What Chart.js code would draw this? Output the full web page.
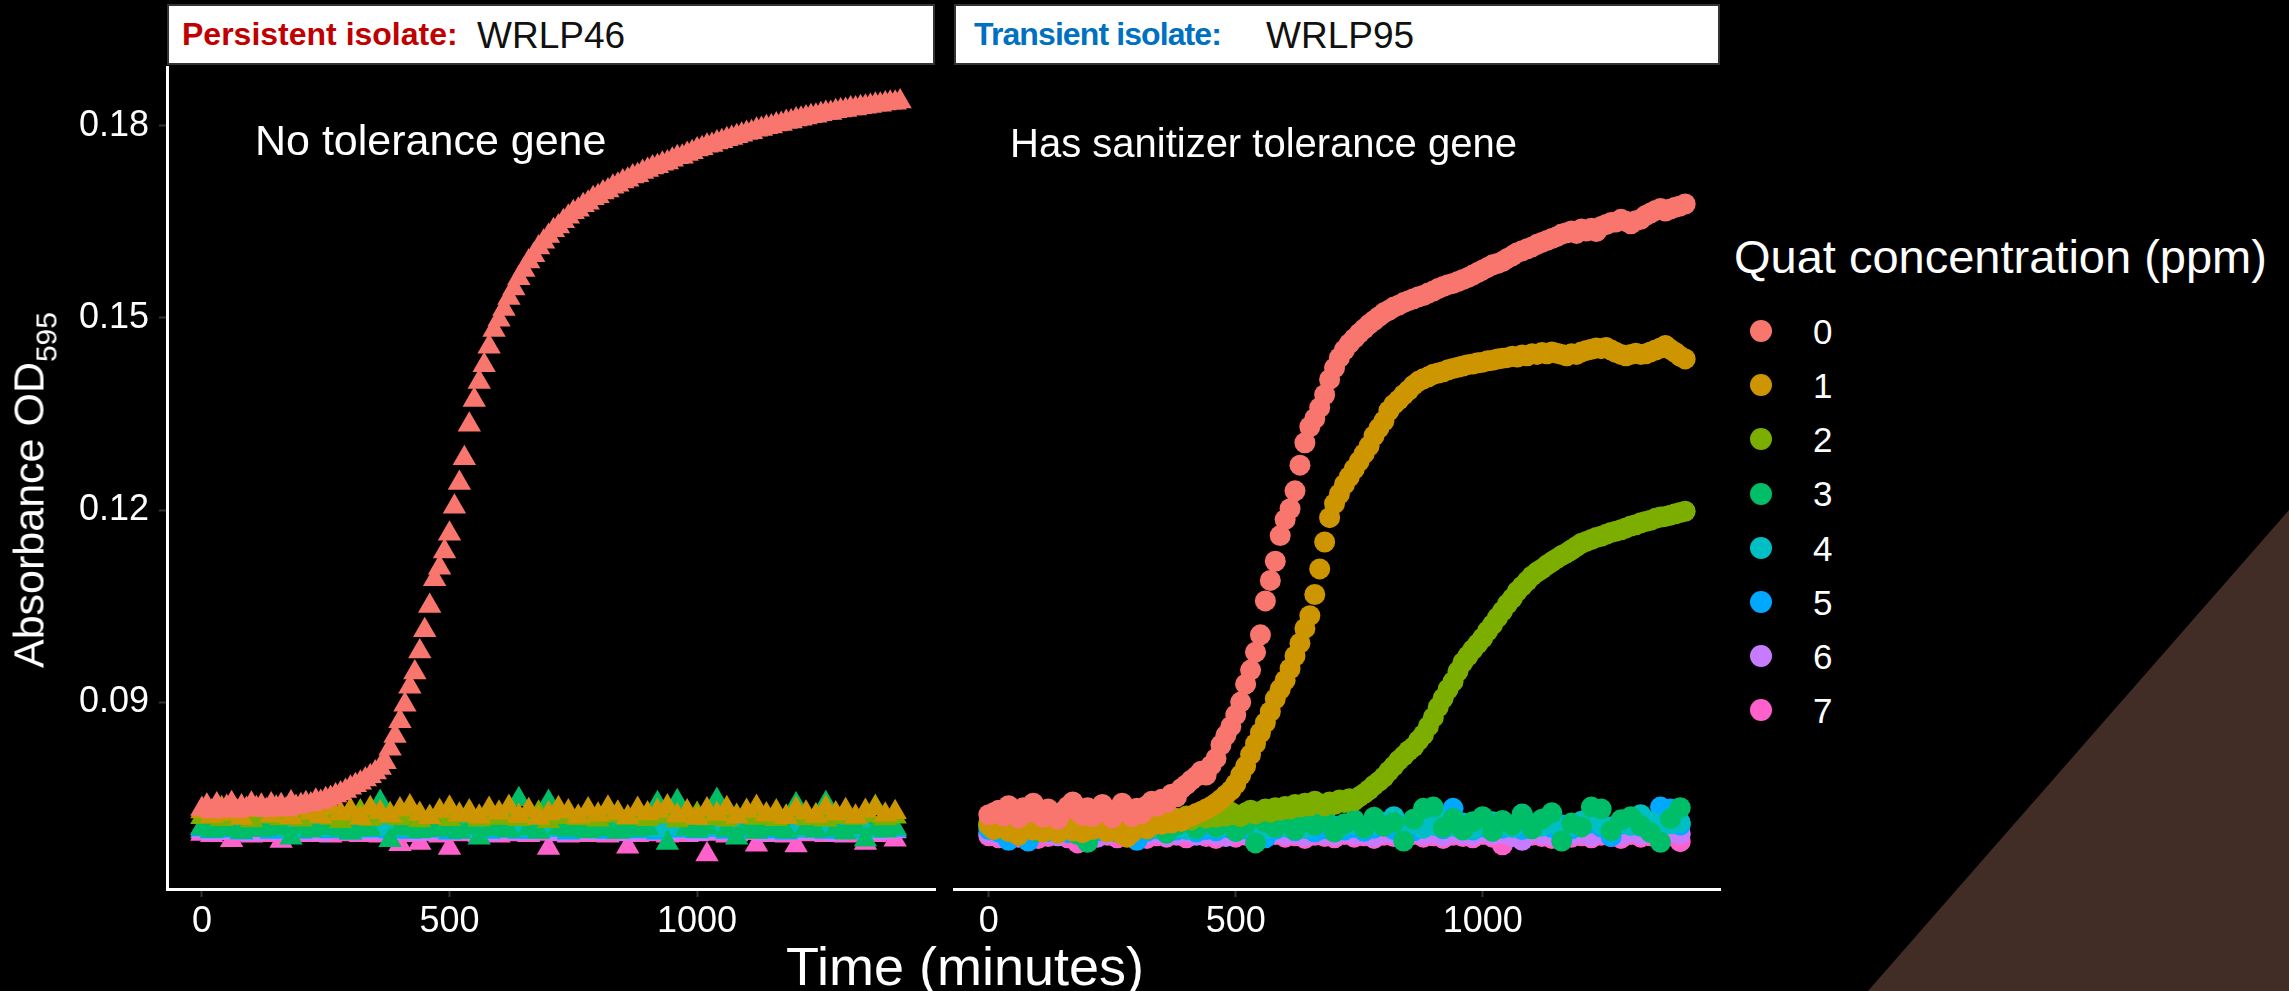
<!DOCTYPE html>
<html>
<head>
<meta charset="utf-8">
<script src="https://cdn.jsdelivr.net/npm/chart.js@4.4.1/dist/chart.umd.min.js"></script>
<style>
html, body { margin: 0; padding: 0; background: #000; }
#page { position: relative; width: 2289px; height: 991px; background: #000; overflow: hidden;
        font-family: "Liberation Sans", Arial, sans-serif; color: #fff; }
.txt { position: absolute; white-space: nowrap; }
.panel { position: absolute; }
.strip { position: absolute; box-sizing: border-box; background: #fff; border: 2px solid #333; }
.dot { position: absolute; border-radius: 50%; }
#corner { position: absolute; left: 0; top: 0; width: 2289px; height: 991px; background: #422c26;
          clip-path: polygon(2289px 510px, 2289px 991px, 1868px 991px); }
</style>
</head>
<body>
<div id="page">
  <div id="corner"></div>
  <div class="strip" style="left:167px;top:4px;width:768px;height:61px;"></div>
  <div class="strip" style="left:954px;top:4px;width:766px;height:61px;"></div>
  <canvas id="leftChart" class="panel" width="945" height="931" style="left:0;top:60px;width:945px;height:931px;"></canvas>
  <canvas id="rightChart" class="panel" width="785" height="931" style="left:945px;top:60px;width:785px;height:931px;"></canvas>
</div>
<script>
// concentrations and ggplot hue colours
const concLabels = ['0', '1', '2', '3', '4', '5', '6', '7'];
const concColors = ['#F8766D', '#CD9600', '#7CAE00', '#00BE67', '#00BFC4', '#00A9FF', '#C77CFF', '#FF61CC'];

const xTicks = [0, 500, 1000];
const yTicks = [0.09, 0.12, 0.15, 0.18];

// reading times (minutes)
const timesFine = [
  0, 10, 20, 30, 40, 50, 60, 70, 80, 90,
  100, 110, 120, 130, 140, 150, 160, 170, 180, 190,
  200, 210, 220, 230, 240, 250, 260, 270, 280, 290,
  300, 310, 320, 330, 340, 350, 360, 370, 380, 390,
  400, 410, 420, 430, 440, 450, 460, 470, 480, 490,
  500, 510, 520, 530, 540, 550, 560, 570, 580, 590,
  600, 610, 620, 630, 640, 650, 660, 670, 680, 690,
  700, 710, 720, 730, 740, 750, 760, 770, 780, 790,
  800, 810, 820, 830, 840, 850, 860, 870, 880, 890,
  900, 910, 920, 930, 940, 950, 960, 970, 980, 990,
  1000, 1010, 1020, 1030, 1040, 1050, 1060, 1070, 1080, 1090,
  1100, 1110, 1120, 1130, 1140, 1150, 1160, 1170, 1180, 1190,
  1200, 1210, 1220, 1230, 1240, 1250, 1260, 1270, 1280, 1290,
  1300, 1310, 1320, 1330, 1340, 1350, 1360, 1370, 1380, 1390,
  1400, 1410
];
const timesCoarse = [
  0, 20, 40, 60, 80, 100, 120, 140, 160, 180,
  200, 220, 240, 260, 280, 300, 320, 340, 360, 380,
  400, 420, 440, 460, 480, 500, 520, 540, 560, 580,
  600, 620, 640, 660, 680, 700, 720, 740, 760, 780,
  800, 820, 840, 860, 880, 900, 920, 940, 960, 980,
  1000, 1020, 1040, 1060, 1080, 1100, 1120, 1140, 1160, 1180,
  1200, 1220, 1240, 1260, 1280, 1300, 1320, 1340, 1360, 1380,
  1400
];

// Persistent isolate WRLP46 (absorbance OD595)
const wrlp46_q0 = [
  0.0733, 0.0738, 0.0729, 0.0740, 0.0731, 0.0736, 0.0742, 0.0730, 0.0737, 0.0733,
  0.0741, 0.0734, 0.0738, 0.0731, 0.0740, 0.0735, 0.0739, 0.0732, 0.0743, 0.0736,
  0.0739, 0.0742, 0.0740, 0.0746, 0.0744, 0.0748, 0.0750, 0.0754, 0.0757, 0.0761,
  0.0766, 0.0770, 0.0774, 0.0779, 0.0784, 0.0790, 0.0797, 0.0806, 0.0827, 0.0847,
  0.0870, 0.0896, 0.0924, 0.0946, 0.0979, 0.1012, 0.1050, 0.1092, 0.1110, 0.1135,
  0.1163, 0.1205, 0.1242, 0.1281, 0.1333, 0.1372, 0.1400, 0.1426, 0.1455, 0.1481,
  0.1497, 0.1514, 0.1531, 0.1546, 0.1562, 0.1575, 0.1588, 0.1598, 0.1610, 0.1619,
  0.1628, 0.1637, 0.1643, 0.1651, 0.1658, 0.1665, 0.1669, 0.1676, 0.1680, 0.1687,
  0.1690, 0.1696, 0.1699, 0.1705, 0.1708, 0.1713, 0.1716, 0.1721, 0.1723, 0.1728,
  0.1731, 0.1735, 0.1737, 0.1741, 0.1743, 0.1747, 0.1751, 0.1752, 0.1756, 0.1759,
  0.1763, 0.1765, 0.1769, 0.1770, 0.1774, 0.1776, 0.1779, 0.1781, 0.1784, 0.1786,
  0.1789, 0.1790, 0.1794, 0.1795, 0.1798, 0.1799, 0.1802, 0.1803, 0.1806, 0.1807,
  0.1810, 0.1811, 0.1813, 0.1815, 0.1816, 0.1818, 0.1820, 0.1820, 0.1823, 0.1824,
  0.1825, 0.1827, 0.1827, 0.1829, 0.1830, 0.1831, 0.1833, 0.1833, 0.1835, 0.1836,
  0.1836, 0.1838
];
const wrlp46_q1 = [
  0.0729, 0.0722, 0.0734, 0.0725, 0.0719, 0.0731, 0.0736, 0.0723, 0.0730, 0.0720,
  0.0733, 0.0727, 0.0721, 0.0735, 0.0726, 0.0731, 0.0719, 0.0734, 0.0728, 0.0723,
  0.0732, 0.0737, 0.0725, 0.0720, 0.0730, 0.0735, 0.0724, 0.0729, 0.0721, 0.0733,
  0.0727, 0.0736, 0.0722, 0.0731, 0.0719, 0.0726, 0.0734, 0.0729, 0.0721, 0.0732,
  0.0724, 0.0735, 0.0727, 0.0720, 0.0733, 0.0726, 0.0730, 0.0737, 0.0723, 0.0729,
  0.0719, 0.0732, 0.0725, 0.0734, 0.0721, 0.0730, 0.0736, 0.0724, 0.0729, 0.0720,
  0.0733, 0.0727, 0.0722, 0.0735, 0.0726, 0.0731, 0.0721, 0.0730, 0.0734, 0.0724,
  0.0728
];
const wrlp46_q2 = [
  0.0720, 0.0725, 0.0717, 0.0723, 0.0728, 0.0715, 0.0721, 0.0726, 0.0718, 0.0724,
  0.0716, 0.0722, 0.0727, 0.0719, 0.0714, 0.0723, 0.0729, 0.0717, 0.0721, 0.0725,
  0.0718, 0.0724, 0.0715, 0.0720, 0.0726, 0.0717, 0.0722, 0.0728, 0.0716, 0.0723,
  0.0719, 0.0725, 0.0717, 0.0721, 0.0727, 0.0714, 0.0720, 0.0724, 0.0718, 0.0723,
  0.0716, 0.0722, 0.0726, 0.0719, 0.0724, 0.0717, 0.0721, 0.0727, 0.0715, 0.0720,
  0.0725, 0.0718, 0.0723, 0.0716, 0.0722, 0.0726, 0.0719, 0.0724, 0.0717, 0.0721,
  0.0727, 0.0718, 0.0723, 0.0716, 0.0720, 0.0725, 0.0719, 0.0722, 0.0736, 0.0718,
  0.0721
];
const wrlp46_q3 = [
  0.0703, 0.0699, 0.0706, 0.0701, 0.0697, 0.0704, 0.0700, 0.0707, 0.0702, 0.0688,
  0.0705, 0.0699, 0.0703, 0.0708, 0.0700, 0.0696, 0.0704, 0.0701, 0.0744, 0.0684,
  0.0702, 0.0706, 0.0698, 0.0703, 0.0700, 0.0707, 0.0697, 0.0704, 0.0688, 0.0701,
  0.0705, 0.0699, 0.0748, 0.0702, 0.0697, 0.0744, 0.0703, 0.0700, 0.0706, 0.0698,
  0.0704, 0.0701, 0.0697, 0.0705, 0.0700, 0.0703, 0.0742, 0.0680, 0.0745, 0.0702,
  0.0699, 0.0704, 0.0747, 0.0700, 0.0688, 0.0703, 0.0697, 0.0705, 0.0701, 0.0698,
  0.0740, 0.0703, 0.0699, 0.0742, 0.0701, 0.0696, 0.0704, 0.0685, 0.0702, 0.0699,
  0.0703
];
const wrlp46_q4 = [
  0.0704, 0.0701, 0.0706, 0.0703, 0.0700, 0.0705, 0.0702, 0.0707, 0.0703, 0.0700,
  0.0705, 0.0702, 0.0704, 0.0701, 0.0706, 0.0703, 0.0700, 0.0705, 0.0702, 0.0704,
  0.0701, 0.0706, 0.0703, 0.0700, 0.0704, 0.0702, 0.0707, 0.0703, 0.0701, 0.0705,
  0.0702, 0.0704, 0.0700, 0.0706, 0.0703, 0.0701, 0.0705, 0.0702, 0.0704, 0.0700,
  0.0706, 0.0703, 0.0701, 0.0705, 0.0702, 0.0704, 0.0700, 0.0706, 0.0703, 0.0701,
  0.0705, 0.0702, 0.0704, 0.0700, 0.0706, 0.0703, 0.0701, 0.0705, 0.0702, 0.0704,
  0.0700, 0.0706, 0.0703, 0.0701, 0.0705, 0.0702, 0.0704, 0.0700, 0.0703, 0.0705,
  0.0702
];
const wrlp46_q5 = [
  0.0701, 0.0698, 0.0702, 0.0699, 0.0696, 0.0703, 0.0700, 0.0697, 0.0702, 0.0699,
  0.0697, 0.0701, 0.0704, 0.0698, 0.0700, 0.0696, 0.0702, 0.0699, 0.0703, 0.0698,
  0.0700, 0.0697, 0.0703, 0.0699, 0.0701, 0.0696, 0.0698, 0.0702, 0.0700, 0.0697,
  0.0703, 0.0699, 0.0697, 0.0701, 0.0698, 0.0704, 0.0700, 0.0696, 0.0702, 0.0699,
  0.0701, 0.0697, 0.0703, 0.0700, 0.0698, 0.0702, 0.0696, 0.0701, 0.0699, 0.0703,
  0.0698, 0.0700, 0.0702, 0.0697, 0.0701, 0.0699, 0.0704, 0.0698, 0.0700, 0.0696,
  0.0702, 0.0699, 0.0701, 0.0697, 0.0703, 0.0700, 0.0698, 0.0702, 0.0699, 0.0701,
  0.0700
];
const wrlp46_q6 = [
  0.0698, 0.0695, 0.0699, 0.0696, 0.0700, 0.0694, 0.0697, 0.0699, 0.0695, 0.0698,
  0.0696, 0.0700, 0.0694, 0.0697, 0.0699, 0.0695, 0.0698, 0.0696, 0.0700, 0.0695,
  0.0697, 0.0699, 0.0694, 0.0698, 0.0696, 0.0700, 0.0695, 0.0697, 0.0699, 0.0694,
  0.0698, 0.0696, 0.0700, 0.0695, 0.0697, 0.0699, 0.0694, 0.0698, 0.0696, 0.0700,
  0.0695, 0.0697, 0.0699, 0.0694, 0.0698, 0.0696, 0.0700, 0.0695, 0.0697, 0.0699,
  0.0694, 0.0698, 0.0696, 0.0700, 0.0695, 0.0697, 0.0699, 0.0694, 0.0698, 0.0696,
  0.0700, 0.0695, 0.0697, 0.0699, 0.0694, 0.0698, 0.0696, 0.0700, 0.0695, 0.0697,
  0.0698
];
const wrlp46_q7 = [
  0.0694, 0.0692, 0.0695, 0.0684, 0.0693, 0.0691, 0.0694, 0.0692, 0.0683, 0.0693,
  0.0695, 0.0692, 0.0694, 0.0691, 0.0693, 0.0695, 0.0692, 0.0694, 0.0691, 0.0693,
  0.0678, 0.0692, 0.0680, 0.0694, 0.0691, 0.0672, 0.0693, 0.0695, 0.0692, 0.0694,
  0.0691, 0.0693, 0.0695, 0.0692, 0.0694, 0.0672, 0.0693, 0.0691, 0.0695, 0.0692,
  0.0694, 0.0691, 0.0693, 0.0674, 0.0692, 0.0695, 0.0693, 0.0691, 0.0694, 0.0692,
  0.0693, 0.0662, 0.0694, 0.0691, 0.0693, 0.0695, 0.0677, 0.0692, 0.0694, 0.0691,
  0.0676, 0.0693, 0.0695, 0.0692, 0.0694, 0.0691, 0.0693, 0.0680, 0.0692, 0.0694,
  0.0685
];

// Transient isolate WRLP95 (absorbance OD595)
const wrlp95_q0 = [
  0.0724, 0.0727, 0.0731, 0.0722, 0.0738, 0.0726, 0.0719, 0.0735, 0.0728, 0.0742,
  0.0725, 0.0720, 0.0733, 0.0727, 0.0717, 0.0729, 0.0737, 0.0744, 0.0730, 0.0723,
  0.0735, 0.0721, 0.0730, 0.0740, 0.0726, 0.0719, 0.0732, 0.0742, 0.0728, 0.0721,
  0.0734, 0.0726, 0.0738, 0.0745, 0.0737, 0.0748, 0.0743, 0.0756, 0.0752, 0.0765,
  0.0771, 0.0778, 0.0784, 0.0792, 0.0786, 0.0801, 0.0812, 0.0833, 0.0848, 0.0862,
  0.0880, 0.0900, 0.0928, 0.0950, 0.0978, 0.1005, 0.1058, 0.1090, 0.1120, 0.1160,
  0.1185, 0.1202, 0.1230, 0.1270, 0.1305, 0.1330, 0.1343, 0.1360, 0.1380, 0.1404,
  0.1422, 0.1438, 0.1450, 0.1460, 0.1468, 0.1476, 0.1483, 0.1490, 0.1496, 0.1502,
  0.1508, 0.1512, 0.1517, 0.1520, 0.1524, 0.1527, 0.1530, 0.1533, 0.1535, 0.1539,
  0.1542, 0.1546, 0.1549, 0.1552, 0.1554, 0.1557, 0.1560, 0.1563, 0.1567, 0.1571,
  0.1575, 0.1579, 0.1583, 0.1585, 0.1588, 0.1593, 0.1597, 0.1602, 0.1605, 0.1608,
  0.1611, 0.1615, 0.1618, 0.1621, 0.1624, 0.1627, 0.1631, 0.1633, 0.1636, 0.1632,
  0.1639, 0.1636, 0.1640, 0.1635, 0.1643, 0.1646, 0.1649, 0.1650, 0.1654, 0.1651,
  0.1647, 0.1652, 0.1654, 0.1660, 0.1664, 0.1668, 0.1671, 0.1667, 0.1670, 0.1673,
  0.1675, 0.1678
];
const wrlp95_q1 = [
  0.0708, 0.0701, 0.0712, 0.0704, 0.0698, 0.0709, 0.0692, 0.0703, 0.0711, 0.0700,
  0.0706, 0.0697, 0.0710, 0.0702, 0.0695, 0.0707, 0.0713, 0.0699, 0.0704, 0.0696,
  0.0709, 0.0701, 0.0712, 0.0703, 0.0697, 0.0708, 0.0700, 0.0693, 0.0689, 0.0696,
  0.0705, 0.0710, 0.0702, 0.0707, 0.0713, 0.0709, 0.0715, 0.0711, 0.0718, 0.0714,
  0.0720, 0.0722, 0.0726, 0.0729, 0.0733, 0.0737, 0.0742, 0.0748, 0.0755, 0.0762,
  0.0772, 0.0786, 0.0800, 0.0818, 0.0835, 0.0852, 0.0868, 0.0885, 0.0905, 0.0920,
  0.0934, 0.0952, 0.0972, 0.0992, 0.1015, 0.1035, 0.1068, 0.1108, 0.1150, 0.1188,
  0.1210, 0.1225, 0.1240, 0.1252, 0.1264, 0.1276, 0.1288, 0.1300, 0.1316, 0.1328,
  0.1339, 0.1355, 0.1365, 0.1372, 0.1380, 0.1387, 0.1395, 0.1401, 0.1405, 0.1408,
  0.1412, 0.1414, 0.1416, 0.1419, 0.1421, 0.1423, 0.1425, 0.1427, 0.1428, 0.1430,
  0.1431, 0.1433, 0.1434, 0.1436, 0.1437, 0.1438, 0.1440, 0.1439, 0.1442, 0.1441,
  0.1444, 0.1443, 0.1446, 0.1444, 0.1447, 0.1445, 0.1443, 0.1441, 0.1444, 0.1443,
  0.1447, 0.1449, 0.1451, 0.1453, 0.1452, 0.1454, 0.1450, 0.1446, 0.1443, 0.1441,
  0.1443, 0.1445, 0.1443, 0.1444, 0.1447, 0.1450, 0.1453, 0.1457, 0.1451, 0.1446,
  0.1440, 0.1436
];
const wrlp95_q2 = [
  0.0712, 0.0708, 0.0715, 0.0710, 0.0717, 0.0706, 0.0713, 0.0709, 0.0716, 0.0711,
  0.0704, 0.0714, 0.0709, 0.0718, 0.0707, 0.0712, 0.0716, 0.0705, 0.0713, 0.0719,
  0.0708, 0.0714, 0.0710, 0.0717, 0.0706, 0.0713, 0.0718, 0.0709, 0.0715, 0.0711,
  0.0716, 0.0707, 0.0714, 0.0719, 0.0712, 0.0717, 0.0713, 0.0720, 0.0715, 0.0718,
  0.0722, 0.0716, 0.0721, 0.0725, 0.0719, 0.0724, 0.0720, 0.0726, 0.0722, 0.0728,
  0.0724, 0.0721, 0.0727, 0.0731, 0.0725, 0.0729, 0.0733, 0.0728, 0.0735, 0.0731,
  0.0737, 0.0733, 0.0740, 0.0736, 0.0742, 0.0738, 0.0745, 0.0741, 0.0738, 0.0744,
  0.0740, 0.0747, 0.0743, 0.0749, 0.0746, 0.0752, 0.0757, 0.0763, 0.0770, 0.0776,
  0.0783, 0.0792, 0.0800, 0.0809, 0.0816, 0.0824, 0.0830, 0.0840, 0.0849, 0.0862,
  0.0876, 0.0892, 0.0906, 0.0920, 0.0932, 0.0948, 0.0962, 0.0972, 0.0982, 0.0991,
  0.1000, 0.1011, 0.1021, 0.1032, 0.1042, 0.1053, 0.1062, 0.1073, 0.1081, 0.1089,
  0.1097, 0.1103, 0.1108, 0.1114, 0.1119, 0.1124, 0.1129, 0.1133, 0.1138, 0.1143,
  0.1148, 0.1151, 0.1154, 0.1157, 0.1159, 0.1162, 0.1165, 0.1167, 0.1169, 0.1172,
  0.1175, 0.1177, 0.1180, 0.1182, 0.1184, 0.1187, 0.1189, 0.1190, 0.1192, 0.1194,
  0.1196, 0.1198
];
const wrlp95_q3 = [
  0.0709, 0.0703, 0.0714, 0.0700, 0.0711, 0.0697, 0.0706, 0.0715, 0.0702, 0.0693,
  0.0681, 0.0704, 0.0712, 0.0699, 0.0708, 0.0716, 0.0701, 0.0710, 0.0695, 0.0707,
  0.0713, 0.0702, 0.0718, 0.0705, 0.0711, 0.0698, 0.0709, 0.0680, 0.0712, 0.0704,
  0.0719, 0.0700, 0.0714, 0.0707, 0.0722, 0.0697, 0.0710, 0.0716, 0.0703, 0.0720,
  0.0706, 0.0712, 0.0683, 0.0717, 0.0734, 0.0736, 0.0704, 0.0718, 0.0700, 0.0713,
  0.0721, 0.0698, 0.0715, 0.0708, 0.0724, 0.0702, 0.0717, 0.0727, 0.0683, 0.0711,
  0.0705, 0.0736, 0.0733, 0.0699, 0.0716, 0.0721, 0.0707, 0.0696, 0.0681, 0.0718,
  0.0735
];
const wrlp95_q4 = [
  0.0706, 0.0710, 0.0701, 0.0707, 0.0712, 0.0703, 0.0708, 0.0700, 0.0709, 0.0704,
  0.0711, 0.0702, 0.0707, 0.0713, 0.0700, 0.0706, 0.0709, 0.0703, 0.0710, 0.0705,
  0.0701, 0.0708, 0.0712, 0.0704, 0.0707, 0.0699, 0.0710, 0.0705, 0.0702, 0.0709,
  0.0706, 0.0711, 0.0703, 0.0708, 0.0713, 0.0701, 0.0707, 0.0710, 0.0704, 0.0709,
  0.0712, 0.0721, 0.0705, 0.0710, 0.0703, 0.0708, 0.0714, 0.0706, 0.0711, 0.0702,
  0.0709, 0.0713, 0.0707, 0.0704, 0.0725, 0.0710, 0.0706, 0.0712, 0.0703, 0.0708,
  0.0714, 0.0726, 0.0709, 0.0705, 0.0711, 0.0707, 0.0724, 0.0713, 0.0706, 0.0710,
  0.0712
];
const wrlp95_q5 = [
  0.0701, 0.0697, 0.0684, 0.0699, 0.0683, 0.0702, 0.0698, 0.0703, 0.0696, 0.0700,
  0.0682, 0.0699, 0.0703, 0.0697, 0.0701, 0.0684, 0.0698, 0.0702, 0.0696, 0.0700,
  0.0703, 0.0697, 0.0701, 0.0699, 0.0704, 0.0698, 0.0702, 0.0696, 0.0688, 0.0701,
  0.0705, 0.0699, 0.0703, 0.0697, 0.0702, 0.0706, 0.0700, 0.0704, 0.0698, 0.0703,
  0.0707, 0.0701, 0.0705, 0.0699, 0.0704, 0.0708, 0.0702, 0.0734, 0.0706, 0.0700,
  0.0705, 0.0709, 0.0703, 0.0707, 0.0701, 0.0706, 0.0710, 0.0704, 0.0708, 0.0702,
  0.0707, 0.0711, 0.0705, 0.0690, 0.0709, 0.0712, 0.0706, 0.0710, 0.0736, 0.0733,
  0.0708
];
const wrlp95_q6 = [
  0.0695, 0.0692, 0.0697, 0.0693, 0.0690, 0.0696, 0.0694, 0.0691, 0.0697, 0.0693,
  0.0695, 0.0690, 0.0694, 0.0697, 0.0692, 0.0695, 0.0693, 0.0696, 0.0691, 0.0694,
  0.0697, 0.0692, 0.0695, 0.0693, 0.0690, 0.0696, 0.0694, 0.0684, 0.0692, 0.0697,
  0.0693, 0.0695, 0.0691, 0.0696, 0.0694, 0.0692, 0.0697, 0.0693, 0.0695, 0.0690,
  0.0696, 0.0694, 0.0684, 0.0697, 0.0693, 0.0695, 0.0691, 0.0696, 0.0694, 0.0692,
  0.0697, 0.0693, 0.0695, 0.0690, 0.0684, 0.0696, 0.0694, 0.0692, 0.0697, 0.0693,
  0.0695, 0.0691, 0.0696, 0.0694, 0.0692, 0.0697, 0.0693, 0.0695, 0.0690, 0.0696,
  0.0694
];
const wrlp95_q7 = [
  0.0691, 0.0688, 0.0693, 0.0689, 0.0692, 0.0687, 0.0690, 0.0693, 0.0688, 0.0680,
  0.0691, 0.0689, 0.0692, 0.0688, 0.0693, 0.0690, 0.0687, 0.0691, 0.0689, 0.0692,
  0.0688, 0.0693, 0.0690, 0.0687, 0.0691, 0.0689, 0.0692, 0.0688, 0.0690, 0.0693,
  0.0689, 0.0691, 0.0687, 0.0692, 0.0690, 0.0688, 0.0693, 0.0689, 0.0691, 0.0687,
  0.0692, 0.0690, 0.0688, 0.0693, 0.0689, 0.0691, 0.0687, 0.0692, 0.0690, 0.0688,
  0.0693, 0.0689, 0.0677, 0.0691, 0.0688, 0.0692, 0.0690, 0.0687, 0.0693, 0.0689,
  0.0691, 0.0688, 0.0692, 0.0690, 0.0687, 0.0693, 0.0689, 0.0691, 0.0688, 0.0692,
  0.0682
];

const wrlp46Series = [
  [timesFine, wrlp46_q0], [timesCoarse, wrlp46_q1], [timesCoarse, wrlp46_q2], [timesCoarse, wrlp46_q3],
  [timesCoarse, wrlp46_q4], [timesCoarse, wrlp46_q5], [timesCoarse, wrlp46_q6], [timesCoarse, wrlp46_q7]
];
const wrlp95Series = [
  [timesFine, wrlp95_q0], [timesFine, wrlp95_q1], [timesFine, wrlp95_q2], [timesCoarse, wrlp95_q3],
  [timesCoarse, wrlp95_q4], [timesCoarse, wrlp95_q5], [timesCoarse, wrlp95_q6], [timesCoarse, wrlp95_q7]
];

const FONT = '"Liberation Sans", Arial, sans-serif';
const page = document.getElementById('page');

// place a line of text by its left edge (or centre) and baseline
function putText(html, x, baseline, size, opts = {}) {
    const d = document.createElement('div');
    d.className = 'txt';
    d.innerHTML = html;
    d.style.fontSize = size + 'px';
    d.style.lineHeight = size + 'px';
    d.style.left = x + 'px';
    d.style.top = (baseline - 0.8465 * size) + 'px';
    if (opts.color) d.style.color = opts.color;
    if (opts.bold) d.style.fontWeight = 'bold';
    if (opts.spacing) d.style.letterSpacing = opts.spacing + 'px';
    if (opts.center) d.style.transform = 'translateX(-50%)';
    page.appendChild(d);
    return d;
}

// strip labels
putText('Persistent isolate:', 182, 45, 32, { color: '#C00000', bold: true });
putText('WRLP46', 477, 48, 37, { color: '#111' });
putText('Transient isolate:', 974, 45, 32, { color: '#0070C0', bold: true, spacing: -0.9 });
putText('WRLP95', 1266, 48, 37, { color: '#111' });

// panel notes
putText('No tolerance gene', 255, 155, 43);
putText('Has sanitizer tolerance gene', 1010, 157, 40);

// axis titles
putText('Time (minutes)', 965, 985, 54, { center: true });
const yTitle = document.createElement('div');
yTitle.className = 'txt';
yTitle.style.cssText = 'font-size:43px;line-height:43px;left:31px;top:490px;transform:translate(-50%,-50%) rotate(-90deg);';
yTitle.innerHTML = 'Absorbance OD<span style="font-size:30px;position:relative;top:13px;">595</span>';
page.appendChild(yTitle);

// legend
putText('Quat concentration (ppm)', 1734, 273, 47);
concLabels.forEach((lab, i) => {
    const cy = 331 + i * 54.2;
    const dot = document.createElement('div');
    dot.className = 'dot';
    dot.style.cssText = `left:${1761 - 11}px;top:${cy - 11}px;width:22px;height:22px;background:${concColors[i]};`;
    page.appendChild(dot);
    putText(lab, 1813, cy + 12.5, 35);
});

function buildDatasets(series, shape, radius) {
    return series.map(([times, values], i) => ({
        label: concLabels[i],
        data: times.map((t, k) => ({ x: t, y: values[k] })),
        pointStyle: shape,
        pointRadius: radius,
        pointBorderWidth: 0,
        backgroundColor: concColors[i],
        borderColor: concColors[i],
        clip: false
    }));
}

function makePanel(canvasId, datasets, padding, showY) {
    const tickFont = { family: FONT, size: 36 };
    return new Chart(document.getElementById(canvasId), {
        type: 'scatter',
        data: { datasets: datasets },
        options: {
            responsive: false,
            animation: false,
            devicePixelRatio: 1,
            events: [],
            layout: { padding: padding, autoPadding: false },
            plugins: { legend: { display: false }, tooltip: { enabled: false } },
            scales: {
                x: {
                    type: 'linear',
                    min: -70.5,
                    max: 1480.5,
                    afterFit: s => { s.height = 102; s.paddingLeft = 0; s.paddingRight = 0; },
                    afterBuildTicks: s => { s.ticks = xTicks.map(v => ({ value: v })); },
                    ticks: { color: '#fff', font: tickFont, padding: 3, maxRotation: 0, autoSkip: false,
                             callback: v => String(v) },
                    grid: { drawOnChartArea: false, drawTicks: true, tickLength: 8, tickColor: '#333', tickWidth: 2 },
                    border: { display: true, color: '#fff', width: 3 }
                },
                y: {
                    type: 'linear',
                    display: showY,
                    min: 0.0608,
                    max: 0.1892,
                    afterFit: s => {
                        if (showY) s.width = 167;
                        s.paddingTop = 0;
                        s.paddingBottom = 0;
                    },
                    afterBuildTicks: s => { s.ticks = yTicks.map(v => ({ value: v })); },
                    ticks: { color: '#fff', font: tickFont, padding: 10, autoSkip: false,
                             callback: v => v.toFixed(2) },
                    grid: { drawOnChartArea: false, drawTicks: true, tickLength: 8, tickColor: '#333', tickWidth: 2 },
                    border: { display: true, color: '#fff', width: 3 }
                }
            }
        }
    });
}

makePanel('leftChart', buildDatasets(wrlp46Series, 'triangle', 13.5), { top: 7, right: 10, bottom: 0, left: 0 }, true);
makePanel('rightChart', buildDatasets(wrlp95Series, 'circle', 10.5), { top: 7, right: 10, bottom: 0, left: 9 }, false);
</script>
</body>
</html>
